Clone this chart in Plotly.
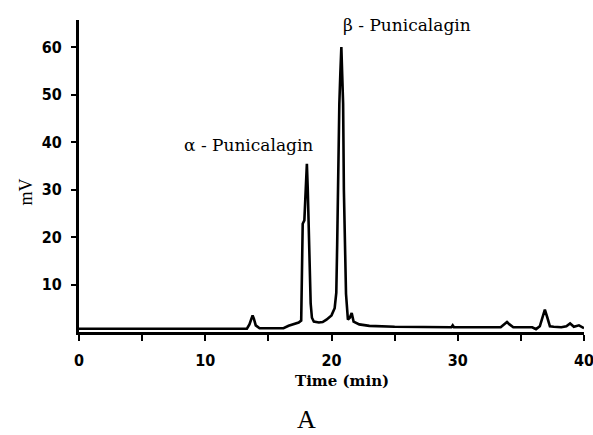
import plotly.graph_objects as go

# Chromatogram trace (time in min, signal in mV)
time_min = [0, 13.3, 13.5, 13.65, 13.75, 13.85, 14.0, 14.3, 16.2, 16.6, 17.0, 17.4, 17.6,
            17.68, 17.72, 17.85, 17.95, 18.05, 18.12, 18.18, 18.25, 18.35, 18.45, 18.6,
            19.0, 19.3, 19.6, 20.0, 20.25, 20.38, 20.45, 20.55, 20.62, 20.7, 20.78,
            20.85, 20.92, 20.98, 21.05, 21.15, 21.3, 21.45, 21.6, 21.75, 22.2, 23.0,
            25.0, 29.5, 29.6, 29.7, 33.4, 33.7, 33.9, 34.1, 34.4, 35.9, 36.2, 36.5,
            36.7, 36.9, 37.1, 37.3, 37.6, 38.2, 38.6, 38.9, 39.2, 39.6, 40.0]
signal_mv = [0.7, 0.7, 1.6, 3.0, 3.5, 2.8, 1.4, 0.8, 0.8, 1.3, 1.6, 2.0, 2.4,
             12.0, 22.8, 23.5, 30.0, 35.4, 30.0, 23.0, 14.0, 6.0, 3.0, 2.2,
             2.0, 2.1, 2.6, 3.5, 5.0, 8.3, 18.4, 40.0, 48.0, 54.5, 60.0,
             54.0, 48.0, 30.0, 22.0, 8.0, 2.6, 3.0, 4.0, 2.2, 1.6, 1.3,
             1.1, 1.0, 1.4, 1.0, 1.0, 1.6, 2.1, 1.6, 1.0, 1.0, 0.6, 1.2,
             3.0, 4.7, 3.0, 1.2, 1.1, 1.0, 1.2, 1.8, 1.1, 1.4, 0.8]

x_ticks = [0, 5, 10, 15, 20, 25, 30, 35, 40]
x_ticktext = ["0", "", "10", "", "20", "", "30", "", "40"]
y_ticks = [10, 20, 30, 40, 50, 60]
y_ticktext = ["10", "20", "30", "40", "50", "60"]

peak_labels = ["α - Punicalagin", "β - Punicalagin"]
peak_label_x = [13.4, 26.0]
peak_label_y = [39.4, 64.6]

tick_font = dict(family="Liberation Sans Narrow, DejaVu Sans Condensed, Arial Narrow, sans-serif",
                 size=16, color="black", weight="bold")
serif = "DejaVu Serif, Liberation Serif, serif"
times = "Liberation Serif, Times New Roman, serif"

fig = go.Figure()
fig.add_trace(go.Scatter(x=time_min, y=signal_mv, mode="lines",
                         line=dict(color="black", width=2.6), showlegend=False,
                         hoverinfo="skip", cliponaxis=False))

annotations = []
for t, xx, yy in zip(peak_labels, peak_label_x, peak_label_y):
    annotations.append(dict(x=xx, y=yy, xref="x", yref="y", text=t, showarrow=False,
                            font=dict(family=serif, size=17, color="black"),
                            xanchor="center", yanchor="middle"))
annotations.append(dict(x=0.521, y=-0.158, xref="paper", yref="paper", text="<b>Time (min)</b>",
                        showarrow=False, font=dict(family=serif, size=15, color="black"),
                        xanchor="center", yanchor="middle"))
annotations.append(dict(x=-0.105, y=0.45, xref="paper", yref="paper", text="mV",
                        textangle=-90, showarrow=False,
                        font=dict(family=times, size=18, color="black"),
                        xanchor="center", yanchor="middle"))
annotations.append(dict(x=0.451, y=-0.28, xref="paper", yref="paper", text="A",
                        showarrow=False, font=dict(family=times, size=26, color="black"),
                        xanchor="center", yanchor="middle"))

fig.update_layout(
    width=593, height=435,
    margin=dict(l=79, r=9, t=20, b=102.5),
    paper_bgcolor="white", plot_bgcolor="white",
    annotations=annotations,
    xaxis=dict(range=[0, 40], tickvals=x_ticks, ticktext=x_ticktext, automargin=False,
               showgrid=False, zeroline=False, showline=True, linecolor="black", linewidth=2.5,
               ticks="outside", ticklen=6, tickwidth=2, tickcolor="black",
               tickfont=tick_font, ticklabelstandoff=6, ticklabeloverflow="allow"),
    yaxis=dict(range=[0, 65.7], tickvals=y_ticks, ticktext=y_ticktext, automargin=False,
               showgrid=False, zeroline=False, showline=True, linecolor="black", linewidth=3,
               ticks="outside", ticklen=5, tickwidth=2, tickcolor="black",
               tickfont=tick_font, ticklabelstandoff=6),
)

fig.write_html("out.html")
